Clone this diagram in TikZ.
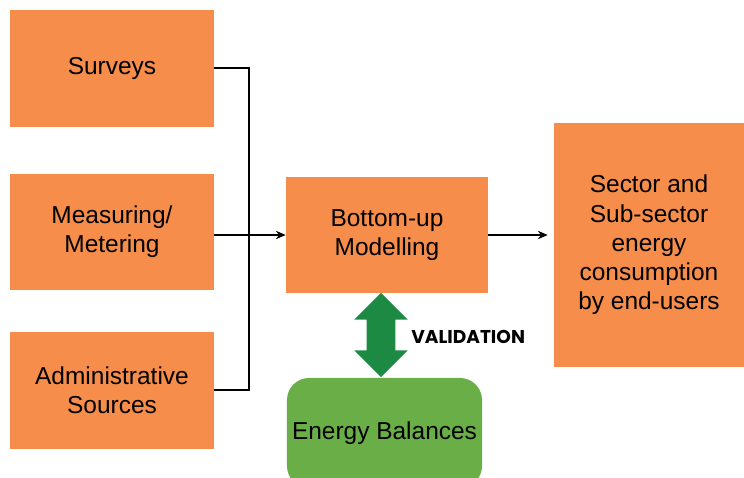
\documentclass[tikz,border=0pt]{standalone}
\usepackage{fontspec}
\setmainfont{Liberation Sans}
\newfontfamily\labelfont{Poppins}
\usepackage{xcolor}
\usetikzlibrary{shapes.arrows, arrows.meta, positioning}

\definecolor{boxorange}{HTML}{F68D4A}
\definecolor{boxgreen}{HTML}{6AAE47}
\definecolor{arrowgreen}{HTML}{1D8A43}

\tikzset{
    srcbox/.style={fill=boxorange, draw=none, minimum width=5.1cm, minimum height=2.9cm, align=center, font=\fontsize{17.4}{20.8}\selectfont},
    conn/.style={line width=0.9pt, black},
    tip/.style={-{Stealth[length=7pt, width=6pt]}}
}

\begin{document}
\begin{tikzpicture}[x=0.025cm, y=-0.025cm]
    \useasboundingbox (0,0) rectangle (744,478);

    % Data sources
    \node[srcbox] (surveys) at (112,68.5) {Surveys};
    \node[srcbox] (metering) at (112,232) {Measuring/\\Metering};
    \node[srcbox] (admin) at (112,390.5) {Administrative\\Sources};

    % Model and result
    \node[srcbox, minimum width=5.05cm] (model) at (387,235) {Bottom-up\\Modelling};
    \node[srcbox, minimum width=4.75cm, minimum height=6.1cm] (result) at (649,245) {Sector and\\Sub-sector\\energy\\consumption\\by end-users};

    % Validation against balances
    \node[fill=boxgreen, rounded corners=0.55cm, minimum width=4.875cm, minimum height=2.75cm, font=\fontsize{17.4}{20.8}\selectfont] (balances) at (384.5,433) {Energy Balances};
    \node[double arrow, fill=arrowgreen, shape border rotate=90, minimum height=2.1cm, minimum width=1.33cm, double arrow head extend=0.31cm, inner sep=0.35cm] (validarrow) at (381,335) {};
    \node[font=\labelfont\bfseries\fontsize{13.2}{15}\selectfont, anchor=west, inner sep=0pt] (validation) at (411,337) {VALIDATION};

    % Connectors
    \coordinate (join) at (249,235);
    \draw[conn] (surveys.east |- 0,68) -| (join) |- (admin.east |- 0,390);
    \draw[conn, tip] (metering.east |- join) -- (model.west |- join);
    \draw[conn, tip] (model.east |- join) -- ([xshift=-0.15cm]result.west |- join);
\end{tikzpicture}
\end{document}
